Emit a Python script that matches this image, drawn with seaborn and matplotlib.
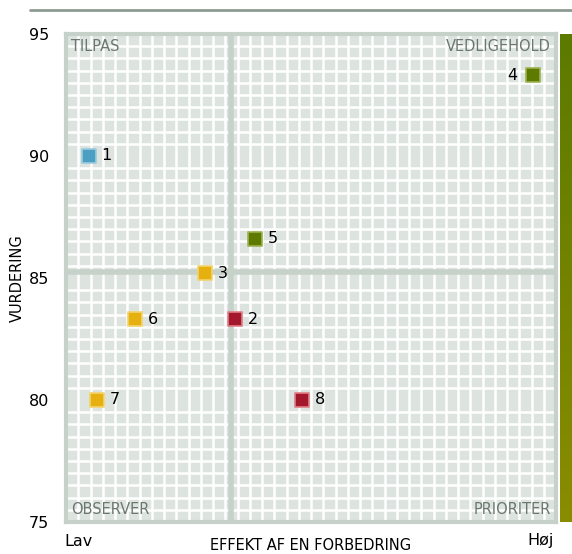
import numpy as np
import pandas as pd
import seaborn as sns
import matplotlib.pyplot as plt
from matplotlib.lines import Line2D
from matplotlib.colors import LinearSegmentedColormap

labels = ["1", "2", "3", "4", "5", "6", "7", "8"]
effekt = [4.7, 34.5, 28.4, 95.3, 38.6, 14.1, 6.3, 48.2]
vurdering = [90.0, 83.3, 85.2, 93.3, 86.6, 83.3, 80.0, 80.0]
gruppe = ["blaa", "roed", "gul", "groen", "groen", "gul", "gul", "roed"]
farver = {"blaa": "#4a9fc2", "roed": "#a3182b", "gul": "#e6b010", "groen": "#5f7a00"}
kanter = {"blaa": "#9cccdd", "roed": "#e07f88", "gul": "#f3d36e", "groen": "#9fb24f"}
kvadranter = ["TILPAS", "VEDLIGEHOLD", "OBSERVER", "PRIORITER"]
midt_x = 33.7
midt_y = 85.25

df = pd.DataFrame({"label": labels, "x": effekt, "y": vurdering, "gruppe": gruppe})

sns.set_style("white")
plt.rcParams["font.family"] = ["DejaVu Sans"]
plt.rcParams["text.color"] = "black"
plt.rcParams["axes.labelcolor"] = "black"
plt.rcParams["ytick.color"] = "black"

fig = plt.figure(figsize=(5.72, 5.54), dpi=100)
ax = fig.add_axes([66 / 572, 32 / 554, 490 / 572, 488 / 554])
ax.set_facecolor("#dde3df")

ax.set_xlim(0, 100)
ax.set_ylim(75, 95)
ax.set_xticks(np.arange(0, 100.1, 2.5), minor=True)
ax.set_yticks(np.arange(75, 95.1, 0.5), minor=True)
ax.set_xticks([])
ax.set_yticks([75, 80, 85, 90, 95])
ax.grid(which="minor", color="white", linewidth=1.8)
ax.tick_params(axis="y", which="both", length=0, pad=12, labelsize=11.5, labelcolor="black")
ax.tick_params(axis="x", which="both", length=0)
for s in ax.spines.values():
    s.set_color("#c6d1c9")
    s.set_linewidth(3)

ax.axvline(midt_x, color="#c6d1c9", linewidth=4, zorder=1.5)
ax.axhline(midt_y, color="#c6d1c9", linewidth=4, zorder=1.5)

for g in farver:
    sub = df[df["gruppe"] == g]
    sns.scatterplot(data=sub, x="x", y="y", marker="s", s=110, color=farver[g],
                    edgecolor=kanter[g], linewidth=1.2, ax=ax, zorder=3, legend=False)

for lab, x, y in zip(labels, effekt, vurdering):
    if x > 90:
        ax.annotate(lab, (x, y), xytext=(-11, 0), textcoords="offset points",
                    ha="right", va="center", fontsize=11.5, color="black")
    else:
        ax.annotate(lab, (x, y), xytext=(9, 0), textcoords="offset points",
                    ha="left", va="center", fontsize=11.5, color="black")

q_col = "#6b776f"
ax.text(0.01, 0.99, kvadranter[0], transform=ax.transAxes, ha="left", va="top", fontsize=10.5, color=q_col)
ax.text(0.99, 0.99, kvadranter[1], transform=ax.transAxes, ha="right", va="top", fontsize=10.5, color=q_col)
ax.text(0.01, 0.01, kvadranter[2], transform=ax.transAxes, ha="left", va="bottom", fontsize=10.5, color=q_col)
ax.text(0.99, 0.01, kvadranter[3], transform=ax.transAxes, ha="right", va="bottom", fontsize=10.5, color=q_col)

ax.set_xlabel("")
ax.set_ylabel("VURDERING", fontsize=10.5, labelpad=3)
fig.text(311 / 572, 1 - 546 / 554, "EFFEKT AF EN FORBEDRING", ha="center", va="center", fontsize=10.5)
fig.text(64 / 572, 1 - 541 / 554, "Lav", ha="left", va="center", fontsize=11.5)
fig.text(554 / 572, 1 - 541 / 554, "Høj", ha="right", va="center", fontsize=11.5)

# farvebar til hoejre
cax = fig.add_axes([560 / 572, 32 / 554, 12 / 572, 488 / 554])
grad = np.linspace(0, 1, 256).reshape(-1, 1)
cmap = LinearSegmentedColormap.from_list("g", ["#5c7a00", "#8a8c00"])
cax.imshow(grad, aspect="auto", cmap=cmap, origin="upper")
cax.axis("off")

fig.add_artist(Line2D([30 / 572, 1], [1 - 10 / 554, 1 - 10 / 554], color="#8e9a92", linewidth=2))

fig.savefig("out.png", dpi=100)
